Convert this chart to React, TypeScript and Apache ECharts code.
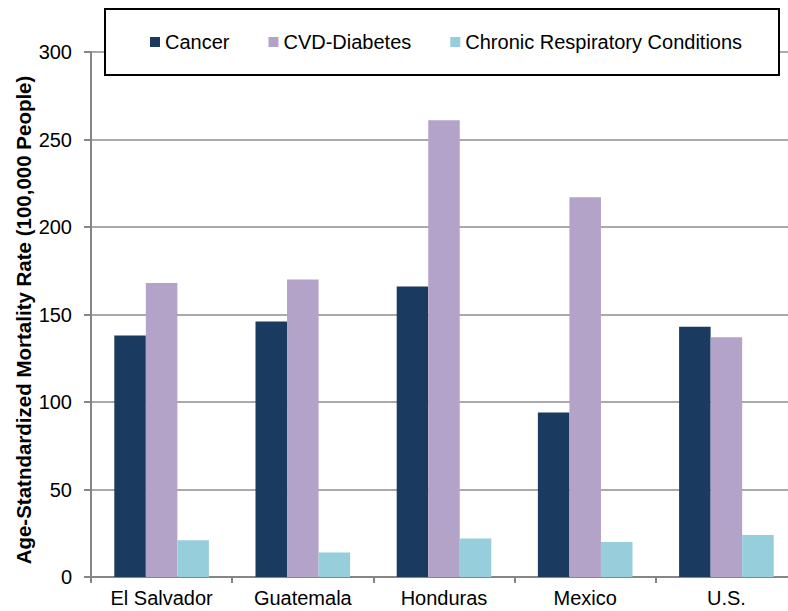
import React, { useEffect, useRef } from "react";
import * as echarts from "echarts";

const categories = ["El Salvador", "Guatemala", "Honduras", "Mexico", "U.S."];
const seriesNames = ["Cancer", "CVD-Diabetes", "Chronic Respiratory Conditions"];
const cancer = [138, 146, 166, 94, 143];
const cvdDiabetes = [168, 170, 261, 217, 137];
const respiratory = [21, 14, 22, 20, 24];
const colors = ["#1B3A5F", "#B3A3C8", "#96CEDC"];
const yTitle = "Age-Statndardized Mortality Rate (100,000 People)";

export default function App() {
  const ref = useRef<HTMLDivElement>(null);
  useEffect(() => {
    if (!ref.current) return;
    const chart = echarts.init(ref.current, undefined, { renderer: "svg" });
    const font = "Liberation Sans, Arial, sans-serif";
    const values = [cancer, cvdDiabetes, respiratory];
    chart.setOption({
      animation: false,
      textStyle: { fontFamily: font },
      grid: {
        left: 91,
        width: 706,
        top: 52,
        bottom: 34,
        containLabel: false,
        outerBoundsMode: "none",
      },
      graphic: [
        {
          type: "rect",
          z: 5,
          shape: { x: 105, y: 9, width: 674, height: 66 },
          style: { fill: "#fff", stroke: "#000", lineWidth: 2 },
        },
        {
          type: "text",
          z: 6,
          x: 23,
          y: 320,
          rotation: Math.PI / 2,
          style: {
            text: yTitle,
            fill: "#000",
            font: `bold 20.5px ${font}`,
            align: "center",
            verticalAlign: "middle",
          },
        },
      ],
      legend: {
        z: 10,
        left: 145,
        top: 27,
        itemWidth: 10,
        itemHeight: 10,
        itemGap: 39,
        icon: "rect",
        textStyle: { fontSize: 20, color: "#000", fontFamily: font },
        data: seriesNames,
      },
      xAxis: {
        type: "category",
        data: categories,
        axisLine: { lineStyle: { color: "#868686", width: 2 } },
        axisTick: { show: true, length: 6, lineStyle: { color: "#868686", width: 2 } },
        axisLabel: { color: "#000", fontSize: 20, margin: 11, fontFamily: font },
      },
      yAxis: {
        type: "value",
        min: 0,
        max: 300,
        interval: 50,
        axisLine: { show: true, lineStyle: { color: "#868686", width: 2 } },
        axisTick: { show: true, length: 7, lineStyle: { color: "#868686", width: 2 } },
        axisLabel: { color: "#000", fontSize: 20, margin: 19, fontFamily: font },
        splitLine: { lineStyle: { color: "#8c8c8c", width: 1.5 } },
      },
      series: seriesNames.map((name, i) => ({
        name,
        type: "bar",
        data: values[i],
        barGap: "0%",
        barCategoryGap: "33%",
        itemStyle: { color: colors[i] },
      })),
    });
    return () => chart.dispose();
  }, []);
  return (
    <div
      ref={ref}
      style={{ position: "absolute", left: 0, top: 0, width: 788, height: 611, background: "#fff" }}
    />
  );
}
